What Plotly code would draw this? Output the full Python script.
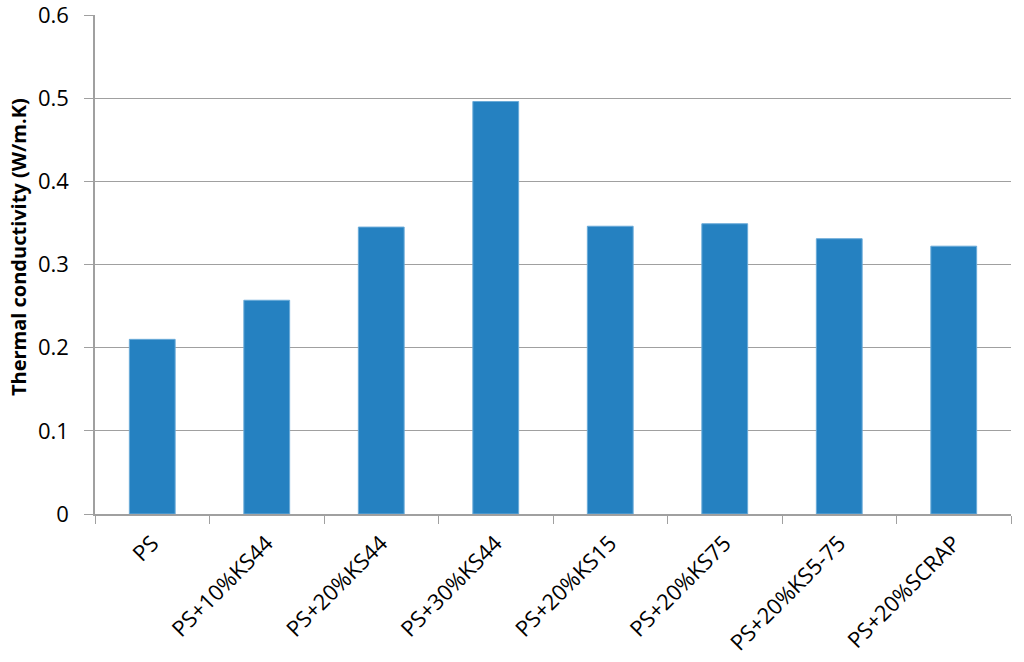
import plotly.graph_objects as go

categories = ["PS", "PS+10%KS44", "PS+20%KS44", "PS+30%KS44", "PS+20%KS15",
              "PS+20%KS75", "PS+20%KS5-75", "PS+20%SCRAP"]
conductivity = [0.210, 0.257, 0.345, 0.496, 0.346, 0.349, 0.331, 0.322]
y_ticks = [0, 0.1, 0.2, 0.3, 0.4, 0.5, 0.6]
y_tick_labels = ["0", "0.1", "0.2", "0.3", "0.4", "0.5", "0.6"]
y_title = "<b>Thermal conductivity (W/m.K)</b>"

fig = go.Figure(go.Bar(
    x=categories, y=conductivity,
    marker=dict(color="#2581C1", line=dict(color="#6aaad8", width=1)),
))

font_family = "Open Sans, Liberation Sans, sans-serif"
fig.update_layout(
    width=1024, height=662,
    margin=dict(l=95, r=13, t=15, b=148),
    plot_bgcolor="white", paper_bgcolor="white",
    bargap=0.6, showlegend=False,
    font=dict(family=font_family, color="black"),
    annotations=[dict(
        text=y_title, textangle=-90, showarrow=False,
        xref="paper", yref="paper", x=-0.084, y=0.535,
        xanchor="center", yanchor="middle",
        font=dict(size=20, family=font_family, color="black"),
    )],
)
fig.update_xaxes(
    automargin=False,
    showline=True, linecolor="#a0a0a0", linewidth=1.5,
    ticks="outside", tickson="boundaries", ticklen=8, tickcolor="#a0a0a0",
    tickangle=-45, tickfont=dict(size=22, family=font_family),
    ticklabelstandoff=6,
    showgrid=False,
)
fig.update_yaxes(
    automargin=False,
    range=[0, 0.6], tickvals=y_ticks, ticktext=y_tick_labels,
    ticklabeloverflow="allow",
    showline=True, linecolor="#a0a0a0", linewidth=1.5,
    ticks="outside", ticklen=9, tickcolor="#a0a0a0",
    ticklabelstandoff=11,
    showgrid=True, gridcolor="#a0a0a0", gridwidth=1,
    zeroline=False,
    tickfont=dict(size=22, family=font_family),
)
fig.write_html("out.html", config={"displayModeBar": False},
               post_script="document.body.style.margin='0';")
